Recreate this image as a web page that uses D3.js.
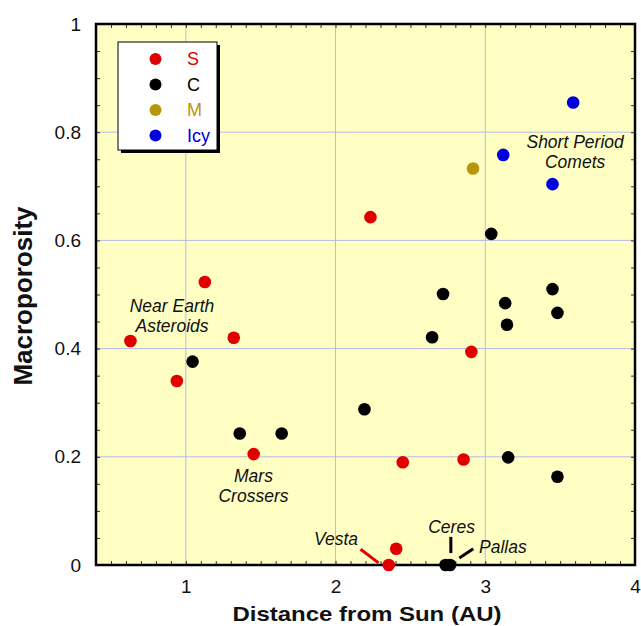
<!DOCTYPE html>
<html>
<head>
<meta charset="utf-8">
<script src="https://cdn.jsdelivr.net/npm/d3@7"></script>
<style>
  body { margin: 0; background: #fff; }
  text { font-family: "Liberation Sans", Arial, sans-serif; }
</style>
</head>
<body>
<svg id="chart" width="641" height="626"></svg>
<script>
// data: [distance AU, macroporosity]
var sType = [[0.63, 0.414], [0.94, 0.34], [1.127, 0.523], [1.32, 0.42], [1.453, 0.205],
             [2.233, 0.643], [2.449, 0.19], [2.855, 0.195], [2.907, 0.394], [2.405, 0.03], [2.355, 0.0]];
var cType = [[1.045, 0.376], [1.36, 0.243], [1.64, 0.243], [2.193, 0.288], [2.645, 0.421],
             [2.718, 0.501], [3.04, 0.612], [3.133, 0.484], [3.449, 0.51], [3.482, 0.466],
             [3.145, 0.444], [3.153, 0.199], [3.482, 0.163], [2.735, 0.0], [2.765, 0.0]];
var mType = [[2.918, 0.733]];
var icyType = [[3.12, 0.758], [3.449, 0.704], [3.587, 0.855]];

var classes = ['S', 'C', 'M', 'Icy'];
var classColors = ['#e00000', '#000000', '#b8960c', '#0000dd'];
var xTicks = [1, 2, 3, 4];
var yTicks = [0, 0.2, 0.4, 0.6, 0.8, 1];

var svg = d3.select('#chart'),
    margin = {top: 24, right: 6, bottom: 61, left: 96},
    width = +svg.attr('width') - margin.left - margin.right,
    height = +svg.attr('height') - margin.top - margin.bottom,
    g = svg.append('g').attr('transform', 'translate(' + margin.left + ',' + margin.top + ')');

var x = d3.scaleLinear().domain([0.4, 4]).range([0, width]);
var y = d3.scaleLinear().domain([0, 1]).range([height, 0]);

g.append('rect')
    .attr('width', width).attr('height', height)
    .attr('fill', '#ffffc4');

// grid
g.append('g').selectAll('line').data(xTicks.slice(0, 3)).enter().append('line')
    .attr('x1', function(d) { return x(d); }).attr('x2', function(d) { return x(d); })
    .attr('y1', 0).attr('y2', height)
    .attr('stroke', '#b8b8e6').attr('stroke-width', 1);
g.append('g').selectAll('line').data(yTicks.slice(1, 5)).enter().append('line')
    .attr('y1', function(d) { return y(d); }).attr('y2', function(d) { return y(d); })
    .attr('x1', 0).attr('x2', width)
    .attr('stroke', '#b8b8e6').attr('stroke-width', 1);

// minor ticks, inward on all sides
var xMinor = d3.range(5, 40).map(function(i) { return i / 10; });
var yMinor = d3.range(1, 20).map(function(i) { return i / 20; });
function tickStyle(a) {
  a.select('.domain').remove();
  a.selectAll('.tick line').attr('stroke', '#333').attr('stroke-width', 1);
}
g.append('g').attr('transform', 'translate(0,' + height + ')')
    .call(d3.axisTop(x).tickValues(xMinor).tickSize(4).tickFormat('')).call(tickStyle);
g.append('g')
    .call(d3.axisBottom(x).tickValues(xMinor).tickSize(4).tickFormat('')).call(tickStyle);
g.append('g')
    .call(d3.axisRight(y).tickValues(yMinor).tickSize(4).tickFormat('')).call(tickStyle);
g.append('g').attr('transform', 'translate(' + width + ',0)')
    .call(d3.axisLeft(y).tickValues(yMinor).tickSize(4).tickFormat('')).call(tickStyle);

// tick labels
var xAxis = g.append('g').attr('transform', 'translate(0,' + height + ')')
    .call(d3.axisBottom(x).tickValues(xTicks).tickSize(0).tickPadding(15).tickFormat(d3.format('d')));
xAxis.select('.domain').remove();
xAxis.selectAll('text').attr('font-size', 19).attr('fill', '#111')
    .style('font-family', '"Liberation Sans", Arial, sans-serif');

var yAxis = g.append('g')
    .call(d3.axisLeft(y).tickValues(yTicks).tickSize(0).tickPadding(15).tickFormat(function(d) { return d3.format('')(d); }));
yAxis.select('.domain').remove();
yAxis.selectAll('text').attr('font-size', 19).attr('fill', '#111')
    .style('font-family', '"Liberation Sans", Arial, sans-serif');

// frame
g.append('rect')
    .attr('width', width).attr('height', height)
    .attr('fill', 'none').attr('stroke', '#000').attr('stroke-width', 2.5);

// points
var groups = [sType, cType, mType, icyType];
groups.forEach(function(pts, i) {
  g.append('g').selectAll('circle').data(pts).enter().append('circle')
      .attr('cx', function(d) { return x(d[0]); })
      .attr('cy', function(d) { return y(d[1]); })
      .attr('r', 6.3)
      .attr('fill', classColors[i]);
});

// annotations
var notes = g.append('g').attr('font-style', 'italic').attr('font-size', 17.5).attr('fill', '#111');
function note(lines, cx, cy, anchor) {
  var off = lines.length > 1 ? -0.8 : 0;
  lines.forEach(function(l, i) {
    notes.append('text').attr('text-anchor', anchor || 'middle')
        .attr('x', x(cx)).attr('y', y(cy) + off + i * 19.6).text(l);
  });
}
note(['Near Earth', 'Asteroids'], 0.908, 0.466);
note(['Mars', 'Crossers'], 1.452, 0.152);
note(['Short Period', 'Comets'], 3.6, 0.769);
note(['Ceres'], 2.775, 0.059);
note(['Vesta'], 2.15, 0.037, 'end');
note(['Pallas'], 2.958, 0.022, 'start');

// leader lines
var leaders = [
  {from: [2.167, 0.029], to: [2.287, 0.004], color: '#e00000'},
  {from: [2.77, 0.052], to: [2.77, 0.022], color: '#000'},
  {from: [2.827, 0.013], to: [2.92, 0.03], color: '#000'}
];
g.append('g').selectAll('line').data(leaders).enter().append('line')
    .attr('x1', function(d) { return x(d.from[0]); }).attr('y1', function(d) { return y(d.from[1]); })
    .attr('x2', function(d) { return x(d.to[0]); }).attr('y2', function(d) { return y(d.to[1]); })
    .attr('stroke', function(d) { return d.color; }).attr('stroke-width', 3);

// legend
var legend = svg.append('g').attr('transform', 'translate(118,42)');
legend.append('rect').attr('x', 3).attr('y', 3).attr('width', 99).attr('height', 108).attr('fill', '#000');
legend.append('rect').attr('width', 99).attr('height', 108)
    .attr('fill', '#fff').attr('stroke', '#000').attr('stroke-width', 1);
var item = legend.selectAll('.item').data(classes).enter().append('g')
    .attr('transform', function(d, i) { return 'translate(0,' + (17 + i * 25.5) + ')'; });
item.append('circle').attr('cx', 37.5).attr('r', 6).attr('fill', function(d, i) { return classColors[i]; });
item.append('text').attr('x', 69).attr('dy', '0.36em').attr('font-size', 18)
    .attr('fill', function(d, i) { return classColors[i]; }).text(function(d) { return d; });

// axis titles
svg.append('text')
    .attr('x', 367).attr('y', 621)
    .attr('text-anchor', 'middle').attr('font-size', 21).attr('font-weight', 'bold').attr('fill', '#111')
    .attr('textLength', 269).attr('lengthAdjust', 'spacingAndGlyphs')
    .text('Distance from Sun (AU)');
svg.append('text')
    .attr('transform', 'translate(32,296) rotate(-90)')
    .attr('text-anchor', 'middle').attr('font-size', 26).attr('font-weight', 'bold').attr('fill', '#111')
    .text('Macroporosity');
</script>
</body>
</html>
